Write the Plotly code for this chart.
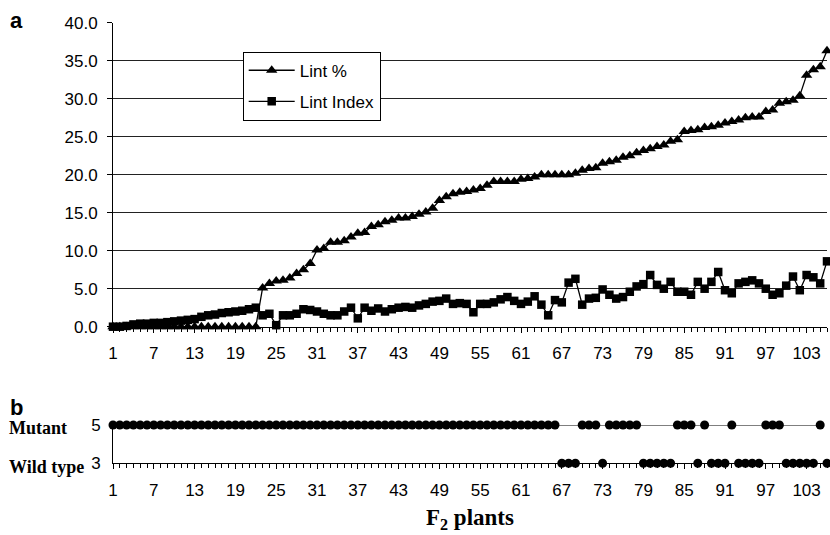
import plotly.graph_objects as go

plants = list(range(1, 107))
lint_pct = [0.0] * 22 + [
    5.1, 5.7, 6.0, 6.1, 6.4, 7.0, 7.5, 8.3, 10.1, 10.3,
    11.1, 11.1, 11.3, 11.8, 12.3, 12.4, 13.2, 13.4, 13.8, 14.0,
    14.3, 14.3, 14.5, 14.8, 15.1, 15.6, 16.6, 17.1, 17.5, 17.7,
    17.8, 18.0, 18.2, 18.6, 19.1, 19.1, 19.1, 19.1, 19.4, 19.5,
    19.7, 20.0, 20.0, 20.0, 20.0, 20.0, 20.2, 20.6, 20.8, 20.9,
    21.5, 21.7, 21.9, 22.3, 22.5, 22.9, 23.2, 23.4, 23.7, 23.9,
    24.4, 24.6, 25.7, 25.8, 25.9, 26.2, 26.3, 26.5, 26.8, 27.0,
    27.2, 27.5, 27.6, 27.6, 28.3, 28.5, 29.4, 29.6, 29.8, 30.4,
    33.1, 33.8, 34.2, 36.3]
lint_index = [
    0.0, 0.0, 0.1, 0.3, 0.4, 0.4, 0.5, 0.5, 0.6, 0.7, 0.8, 0.9, 1.0, 1.3, 1.5,
    1.6, 1.8, 1.9, 2.0, 2.1, 2.3, 2.5,
    1.5, 1.7, 0.2, 1.5, 1.5, 1.7, 2.3, 2.2, 2.0, 1.7, 1.5, 1.5, 2.0, 2.5, 1.1,
    2.5, 2.1, 2.4, 2.0, 2.3, 2.5, 2.6, 2.5,
    2.8, 3.0, 3.3, 3.4, 3.7, 3.0, 3.1, 3.0, 1.9, 3.0, 3.0, 3.2, 3.6, 3.9, 3.4,
    3.0, 3.3, 4.0, 2.9, 1.5, 3.5, 3.2, 5.8, 6.3, 2.9, 3.7, 3.8, 4.9, 4.2, 3.7,
    3.9, 4.6, 5.3, 5.6, 6.8, 5.5, 5.0, 5.9, 4.6, 4.6, 4.2, 5.9, 5.0, 5.9, 7.2,
    4.8, 4.4, 5.7, 5.9, 6.1, 5.7, 5.0, 4.2, 4.4, 5.4, 6.6, 4.8, 6.8, 6.5, 5.7,
    8.6]
# phenotype score: 5 = Mutant, 3 = Wild type
phenotype = [5] * 66 + [
    3, 3, 3, 5, 5, 5, 3, 5, 5, 5, 5, 5, 3, 3, 3, 3, 3, 5, 5, 5,
    3, 5, 3, 3, 3, 5, 3, 3, 3, 3, 5, 5, 5, 3, 3, 3, 3, 3, 5, 3]
assert len(lint_pct) == 106 and len(lint_index) == 106 and len(phenotype) == 106

W, H = 830, 535
def fy(px):
    return 1 - px / H
def fx(px):
    return (px - 113) / 714

mutant_y = [v if v == 5 else None for v in phenotype]
wild_y = [v if v == 3 else None for v in phenotype]

fig = go.Figure()
fig.add_trace(go.Scatter(
    x=plants, y=lint_pct, name="Lint %", mode="lines+markers",
    line=dict(color="black", width=1.3),
    marker=dict(symbol="triangle-up", size=10, color="black"),
    cliponaxis=False, legendgroup="a", xaxis="x", yaxis="y"))
fig.add_trace(go.Scatter(
    x=plants, y=lint_index, name="Lint Index", mode="lines+markers",
    line=dict(color="black", width=1.3),
    marker=dict(symbol="square", size=8.5, color="black"),
    cliponaxis=False, legendgroup="b", xaxis="x", yaxis="y"))
fig.add_trace(go.Scatter(
    x=plants, y=mutant_y, mode="lines+markers", connectgaps=True,
    line=dict(color="black", width=1), showlegend=False,
    marker=dict(symbol="circle", size=9, color="black"),
    cliponaxis=False, xaxis="x2", yaxis="y2"))
fig.add_trace(go.Scatter(
    x=plants, y=wild_y, mode="markers", showlegend=False,
    marker=dict(symbol="circle", size=9, color="black"),
    cliponaxis=False, xaxis="x2", yaxis="y2"))

font_axis = dict(family="Liberation Sans, Arial", size=17, color="black")
xcommon = dict(
    range=[1, 106], showgrid=False, zeroline=False, showline=True,
    linecolor="black", linewidth=1, tickmode="linear", tick0=1, dtick=6,
    ticks="outside", ticklen=5, tickcolor="black", tickfont=font_axis,
    minor=dict(dtick=1, tick0=1, ticks="outside", ticklen=4, tickcolor="black"),
    automargin=False, ticklabelstandoff=6)

fig.update_layout(
    width=W, height=H,
    margin=dict(l=113, r=3, t=0, b=0),
    paper_bgcolor="white", plot_bgcolor="white",
    font=dict(family="Liberation Sans, Arial", color="black"),
    xaxis=dict(domain=[0, 1], anchor="y", **xcommon),
    yaxis=dict(domain=[fy(326.7), fy(22.7)], range=[0, 40], dtick=5,
               tickformat=".1f", showgrid=True, gridcolor="#222", gridwidth=1,
               zeroline=False, showline=True, linecolor="black",
               ticks="outside", ticklen=5, tickcolor="black",
               tickfont=font_axis, automargin=False, ticklabelstandoff=6),
    xaxis2=dict(domain=[0, 1], anchor="y2", **xcommon),
    yaxis2=dict(domain=[fy(463.3), fy(425)], range=[3, 5],
                tickvals=[3, 5], ticktext=["3", "5"], showgrid=False,
                zeroline=False, showline=True, linecolor="black",
                ticks="", tickfont=font_axis, automargin=False,
                ticklabelstandoff=8),
    legend=dict(x=fx(242.7), y=fy(51.7), xanchor="left",
                yanchor="top", bgcolor="white", bordercolor="black",
                borderwidth=1, font=dict(size=17, color="black"),
                tracegroupgap=6, itemwidth=46),
    showlegend=True,
)

serif_b = dict(family="Liberation Serif, Times New Roman", size=18, color="black")
sans_big = dict(family="Liberation Sans, Arial", size=22, color="black")
fig.add_annotation(text="<b>a</b>", x=fx(8), y=fy(20), xref="paper", yref="paper",
                   showarrow=False, xanchor="left", yanchor="middle", font=sans_big)
fig.add_annotation(text="<b>b</b>", x=fx(8), y=fy(407), xref="paper", yref="paper",
                   showarrow=False, xanchor="left", yanchor="middle", font=sans_big)
fig.add_annotation(text="<b>Mutant</b>", x=fx(7), y=fy(428), xref="paper", yref="paper",
                   showarrow=False, xanchor="left", yanchor="middle", font=serif_b)
fig.add_annotation(text="<b>Wild type</b>", x=fx(7), y=fy(467), xref="paper", yref="paper",
                   showarrow=False, xanchor="left", yanchor="middle", font=serif_b)
fig.add_annotation(text="<b>F<sub>2</sub> plants</b>", x=fx(470), y=fy(519),
                   xref="paper", yref="paper", showarrow=False,
                   xanchor="center", yanchor="middle",
                   font=dict(family="Liberation Serif, Times New Roman", size=23, color="black"))

fig.write_html("out.html", config={"displayModeBar": False},
               post_script="document.body.style.margin='0';document.body.style.overflow='hidden';")
